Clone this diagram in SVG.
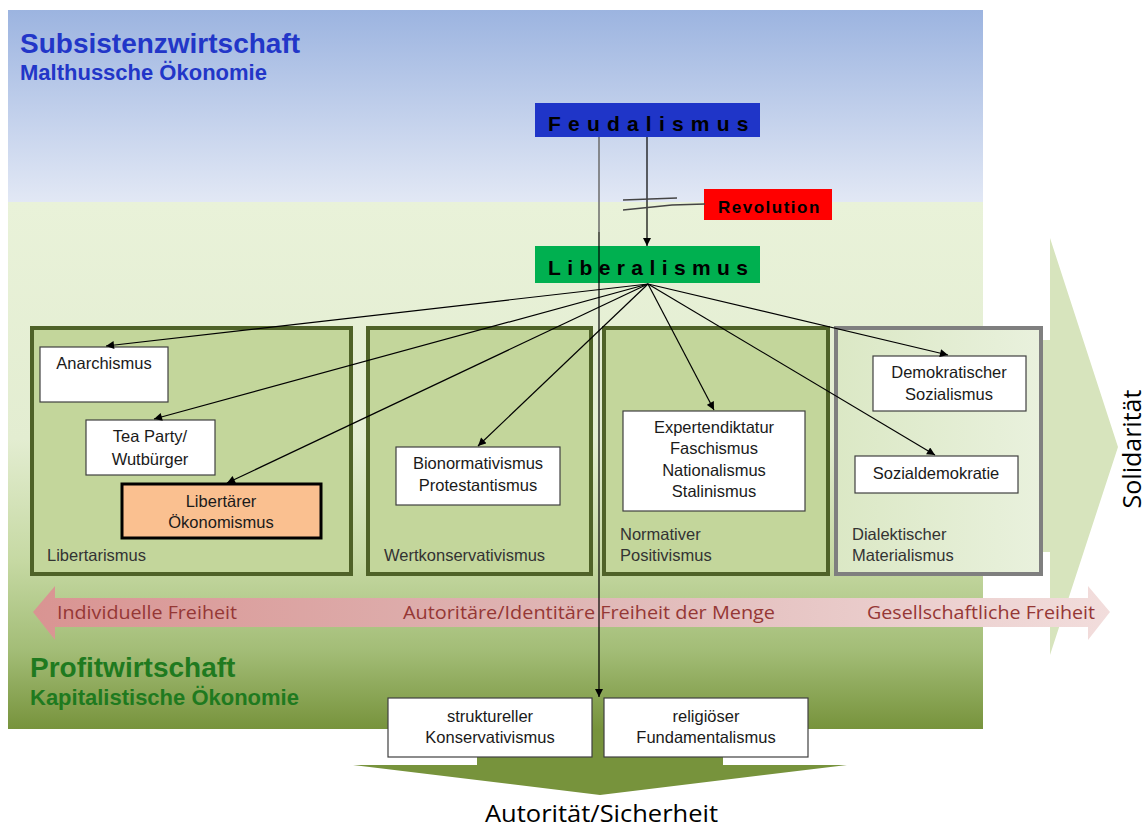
<svg xmlns="http://www.w3.org/2000/svg" width="1146" height="829" viewBox="0 0 1146 829">
<defs>
<linearGradient id="gTop" x1="0" y1="0" x2="0" y2="1">
<stop offset="0" stop-color="#9cb4e0"/>
<stop offset="1" stop-color="#e2e8f5"/>
</linearGradient>
<linearGradient id="gBot" x1="0" y1="0" x2="0" y2="1">
<stop offset="0" stop-color="#e9f2d9"/>
<stop offset="0.45" stop-color="#e3edd1"/>
<stop offset="0.68" stop-color="#c6d9a3"/>
<stop offset="0.85" stop-color="#a3bd77"/>
<stop offset="1" stop-color="#77933c"/>
</linearGradient>
<linearGradient id="gPink" x1="0" y1="0" x2="1" y2="0">
<stop offset="0" stop-color="#d99492"/>
<stop offset="0.5" stop-color="#dfb6b5"/>
<stop offset="1" stop-color="#f2dddc"/>
</linearGradient>
<linearGradient id="gP4" x1="0" y1="0" x2="1" y2="0">
<stop offset="0" stop-color="#dbe8c5"/>
<stop offset="1" stop-color="#e9f1dd"/>
</linearGradient>
<marker id="ah" viewBox="0 0 10 10" refX="10" refY="5" markerWidth="9" markerHeight="8" markerUnits="userSpaceOnUse" orient="auto">
<path d="M0,0 L10,5 L0,10 z" fill="#000"/>
</marker>
<style>
.panel{fill:#c3d69b;stroke:#4f6228;stroke-width:4}
.box{fill:#fff;stroke:#404040;stroke-width:1.2}
.t{font-family:"Liberation Sans",Arial,sans-serif;font-size:16.5px;fill:#1a1a1a;text-anchor:middle}
.lbl{font-family:"Liberation Sans",Arial,sans-serif;font-size:16.5px;fill:#333}
.head{font-family:"Liberation Sans",Arial,sans-serif;font-weight:bold;fill:#000}
.pk{font-family:"Open Sans","Noto Sans",sans-serif;font-size:18px;fill:#953735}
.conn{stroke:#000;stroke-width:1.2;fill:none}
</style>
</defs>

<!-- Solidarity arrow -->
<polygon points="960,340 1050,340 1050,238 1118,447 1050,655 1050,552 960,552" fill="#d7e4bd"/>

<!-- Backgrounds -->
<rect x="8" y="10" width="975" height="192" fill="url(#gTop)"/>
<rect x="8" y="202" width="975" height="527" fill="url(#gBot)"/>

<!-- Bottom arrow -->
<polygon points="477,729 723,729 723,765 847,765 600,795 353,765 477,765" fill="#77933c"/>

<!-- Titles -->
<text x="20" y="53" font-family="Liberation Sans,Arial,sans-serif" font-weight="bold" font-size="28" fill="#2236c8">Subsistenzwirtschaft</text>
<text x="20" y="80" font-family="Liberation Sans,Arial,sans-serif" font-weight="bold" font-size="22" fill="#2236c8">Malthussche Ökonomie</text>
<text x="30" y="677" font-family="Liberation Sans,Arial,sans-serif" font-weight="bold" font-size="28" fill="#1f7a1f">Profitwirtschaft</text>
<text x="30" y="705" font-family="Liberation Sans,Arial,sans-serif" font-weight="bold" font-size="22" fill="#1f7a1f">Kapitalistische Ökonomie</text>

<!-- Panels -->
<g id="panel-libertarismus">
<rect class="panel" x="32" y="328" width="319" height="246"/>
<text class="lbl" x="47" y="561">Libertarismus</text>
</g>
<g id="panel-wertkonservativismus">
<rect class="panel" x="368" y="328" width="223" height="246"/>
<text class="lbl" x="384" y="561">Wertkonservativismus</text>
</g>
<g id="panel-positivismus">
<rect class="panel" x="604" y="328" width="224" height="246"/>
<text class="lbl" x="620" y="540">Normativer</text>
<text class="lbl" x="620" y="561">Positivismus</text>
</g>
<g id="panel-materialismus">
<rect x="836" y="328" width="205" height="246" fill="url(#gP4)" stroke="#7f7f7f" stroke-width="4"/>
<text class="lbl" x="852" y="540">Dialektischer</text>
<text class="lbl" x="852" y="561">Materialismus</text>
</g>

<!-- Pink double arrow -->
<g id="freiheit-arrow">
<polygon points="33,612 55,586 55,598 1088,598 1088,586 1110,612 1088,640 1088,627 55,627 55,640" fill="url(#gPink)"/>
<text class="pk" x="57" y="619" textLength="180" lengthAdjust="spacingAndGlyphs">Individuelle Freiheit</text>
<text class="pk" x="403" y="619" textLength="372" lengthAdjust="spacingAndGlyphs">Autoritäre/Identitäre Freiheit der Menge</text>
<text class="pk" x="867" y="619" textLength="228" lengthAdjust="spacingAndGlyphs">Gesellschaftliche Freiheit</text>
</g>

<text x="1141" y="449" transform="rotate(-90 1141 449)" font-family="Open Sans,Noto Sans,sans-serif" font-size="25" fill="#000" text-anchor="middle">Solidarität</text>
<text x="485" y="822" font-family="Open Sans,Noto Sans,sans-serif" font-size="24" fill="#000" textLength="233" lengthAdjust="spacingAndGlyphs">Autorität/Sicherheit</text>

<!-- Top nodes -->
<g id="feudalismus">
<rect x="535" y="103" width="225" height="34" fill="#1f35c8"/>
<text class="head" x="548" y="131" font-size="21" letter-spacing="7.2">Feudalismus</text>
</g>
<g id="revolution">
<rect x="704" y="189" width="128" height="31" fill="#ff0000"/>
<text class="head" x="718" y="213" font-size="17" letter-spacing="1.5">Revolution</text>
</g>
<g id="liberalismus">
<rect x="535" y="246" width="225" height="37" fill="#00b050"/>
<text class="head" x="548" y="275" font-size="21" letter-spacing="6.4">Liberalismus</text>
</g>

<!-- Leaf nodes -->
<g id="anarchismus">
<rect class="box" x="40" y="347" width="128" height="55"/>
<text class="t" x="104" y="369">Anarchismus</text>
</g>
<g id="teaparty">
<rect class="box" x="86" y="420" width="129" height="55"/>
<text class="t" x="150" y="442">Tea Party/</text>
<text class="t" x="150" y="465">Wutbürger</text>
</g>
<g id="libertaerer">
<rect x="122" y="484" width="199" height="54" fill="#fac090" stroke="#000" stroke-width="3"/>
<text class="t" x="221" y="507">Libertärer</text>
<text class="t" x="221" y="528">Ökonomismus</text>
</g>
<g id="bionormativismus">
<rect class="box" x="396" y="447" width="164" height="58"/>
<text class="t" x="478" y="469">Bionormativismus</text>
<text class="t" x="478" y="491">Protestantismus</text>
</g>
<g id="expertendiktatur">
<rect class="box" x="623" y="411" width="182" height="100"/>
<text class="t" x="714" y="433">Expertendiktatur</text>
<text class="t" x="714" y="454">Faschismus</text>
<text class="t" x="714" y="476">Nationalismus</text>
<text class="t" x="714" y="497">Stalinismus</text>
</g>
<g id="demsozialismus">
<rect class="box" x="873" y="356" width="153" height="55"/>
<text class="t" x="949" y="378">Demokratischer</text>
<text class="t" x="949" y="400">Sozialismus</text>
</g>
<g id="sozialdemokratie">
<rect class="box" x="855" y="456" width="163" height="37"/>
<text class="t" x="936" y="479">Sozialdemokratie</text>
</g>
<g id="strukturkonservativismus">
<rect class="box" x="388" y="698" width="204" height="59"/>
<text class="t" x="490" y="722">struktureller</text>
<text class="t" x="490" y="743">Konservativismus</text>
</g>
<g id="fundamentalismus">
<rect class="box" x="604" y="698" width="204" height="59"/>
<text class="t" x="706" y="722">religiöser</text>
<text class="t" x="706" y="743">Fundamentalismus</text>
</g>

<!-- Connectors -->
<g id="connectors">
<line class="conn" x1="647" y1="137" x2="647" y2="246" stroke-width="1.8" marker-end="url(#ah)"/>
<line x1="599" y1="137" x2="599" y2="232" stroke="#6b6b6b" stroke-width="1.5"/>
<line class="conn" x1="599" y1="232" x2="599" y2="697" marker-end="url(#ah)"/>
<polyline points="623,200 677,198" fill="none" stroke="#444" stroke-width="1.3"/>
<polyline points="623,210 672,205 705,204" fill="none" stroke="#444" stroke-width="1.3"/>
<line class="conn" x1="648" y1="284" x2="106" y2="346" marker-end="url(#ah)"/>
<line class="conn" x1="648" y1="284" x2="154" y2="419" marker-end="url(#ah)"/>
<line class="conn" x1="648" y1="284" x2="227" y2="483" marker-end="url(#ah)"/>
<line class="conn" x1="648" y1="284" x2="478" y2="446" marker-end="url(#ah)"/>
<line class="conn" x1="648" y1="284" x2="714" y2="410" marker-end="url(#ah)"/>
<line class="conn" x1="648" y1="284" x2="948" y2="355" marker-end="url(#ah)"/>
<line class="conn" x1="648" y1="284" x2="935" y2="455" marker-end="url(#ah)"/>
</g>
</svg>
